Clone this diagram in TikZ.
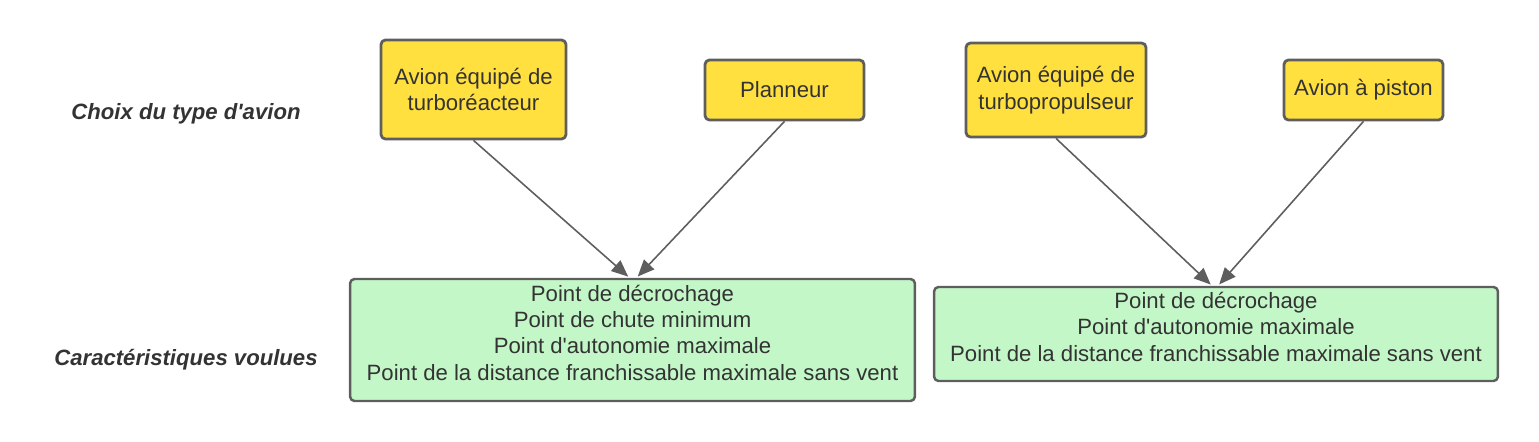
\documentclass[tikz,border=0pt]{standalone}
\usepackage{fontspec}
\setmainfont{Liberation Sans}
\usetikzlibrary{arrows.meta}
\definecolor{jaune}{HTML}{FFE03F}
\definecolor{vert}{HTML}{C3F7C8}
\definecolor{bord}{HTML}{5E5E5E}
\definecolor{texte}{HTML}{333333}
\tikzset{
	choix/.style={draw=bord,fill=jaune,line width=1.6pt,rounded corners=2.5pt,align=center,text=texte,inner sep=0pt},
	carac/.style={draw=bord,fill=vert,line width=1.4pt,rounded corners=2.5pt,align=center,text=texte,inner sep=0pt,text depth=0.3cm},
	titre/.style={font=\fontsize{12.6}{14}\selectfont\bfseries\itshape,text=texte}
}
\begin{document}
\begin{tikzpicture}[x=0.02cm,y=-0.02cm,font=\fontsize{12.6}{15}\selectfont,line join=round,>={Triangle[length=9.5pt,width=8pt]}]
		\useasboundingbox (0,0) rectangle (1539,442);
		\node[titre] (lchoix) at (186,114) {Choix du type d\textquotesingle avion};
		\node[titre] (lcarac) at (186,360) {Caractéristiques voulues};
		\node[choix,minimum width=3.7cm,minimum height=1.98cm] (reacteur) at (473.5,89.5) {Avion équipé de\\turboréacteur};
		\node[choix,minimum width=3.18cm,minimum height=1.2cm] (planneur) at (784.5,90) {Planneur};
		\node[choix,minimum width=3.6cm,minimum height=1.88cm] (propulseur) at (1056,90) {Avion équipé de\\turbopropulseur};
		\node[choix,minimum width=3.18cm,minimum height=1.2cm] (piston) at (1363.5,90) {Avion à piston};
		\node[carac,minimum width=11.3cm,minimum height=2.44cm] (pointsA) at (632.5,340) {Point de décrochage\\Point de chute minimum\\Point d\textquotesingle autonomie maximale\\Point de la distance franchissable maximale sans vent};
		\node[carac,minimum width=11.28cm,minimum height=1.88cm] (pointsB) at (1216,334) {Point de décrochage\\Point d\textquotesingle autonomie maximale\\Point de la distance franchissable maximale sans vent};
		\draw[->,bord,line width=0.9pt,shorten >=1pt] (reacteur.south) -- ([xshift=-0.06cm]pointsA.north);
		\draw[->,bord,line width=0.9pt,shorten >=1pt] (planneur.south) -- ([xshift=0.08cm]pointsA.north);
		\draw[->,bord,line width=0.9pt,shorten >=1pt] (propulseur.south) -- ([xshift=-0.08cm]pointsB.north);
		\draw[->,bord,line width=0.9pt,shorten >=1pt] (piston.south) -- ([xshift=0.04cm]pointsB.north);
\end{tikzpicture}
\end{document}
